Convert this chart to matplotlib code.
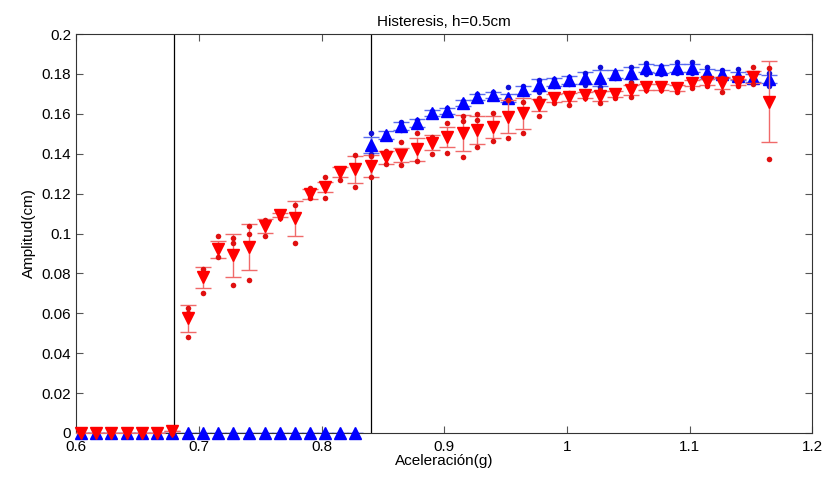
import numpy as np
import matplotlib
matplotlib.use("Agg")
from matplotlib import pyplot as plt
from matplotlib.ticker import FormatStrFormatter, MultipleLocator

plt.rcParams['font.family'] = ['Liberation Sans', 'DejaVu Sans']

# aceleracion (g) de cada medida
acel = [0.6038, 0.6163, 0.6287, 0.6412, 0.6535, 0.6660, 0.6780, 0.6910,
        0.7035, 0.7160, 0.7282, 0.7410, 0.7538, 0.7663, 0.7785, 0.7907,
        0.8029, 0.8152, 0.8274, 0.8400, 0.8524, 0.8649, 0.8777, 0.8899,
        0.9026, 0.9152, 0.9271, 0.9401, 0.9523, 0.9646, 0.9776, 0.9898,
        1.0020, 1.0148, 1.0271, 1.0393, 1.0521, 1.0645, 1.0768, 1.0896,
        1.1018, 1.1140, 1.1267, 1.1398, 1.1520, 1.1650]

# subida (azul)
amp_sube = [0.0] * 19 + [
    0.1444, 0.1494, 0.1539, 0.1552, 0.1602, 0.1616, 0.1652, 0.1686, 0.1696,
    0.1680, 0.1722, 0.1744, 0.1761, 0.1769, 0.1778, 0.1778, 0.1799, 0.1803,
    0.1828, 0.1823, 0.1828, 0.1831, 0.1806, 0.1799, 0.1789, 0.1778, 0.1773]
err_sube = [0.0] * 19 + [
    0.004, 0.002, 0.002, 0.002, 0.0015, 0.0015, 0.0015, 0.0015, 0.0015,
    0.002, 0.002, 0.003, 0.002, 0.002, 0.003, 0.004, 0.002, 0.003,
    0.002, 0.002, 0.002, 0.002, 0.002, 0.002, 0.002, 0.002, 0.002]
sube_hi = [0.0] * 19 + [
    0.1505, 0.1505, 0.1560, 0.1570, 0.1615, 0.1630, 0.1665, 0.1700, 0.1710,
    0.1735, 0.1740, 0.1769, 0.1775, 0.1785, 0.1806, 0.1836, 0.1810, 0.1836,
    0.1856, 0.1840, 0.1861, 0.1861, 0.1836, 0.1820, 0.1823, 0.1800, 0.1803]
sube_lo = [0.0] * 19 + [
    0.1398, 0.1480, 0.1520, 0.1535, 0.1590, 0.1600, 0.1640, 0.1670, 0.1680,
    0.1665, 0.1700, 0.1710, 0.1740, 0.1750, 0.1744, 0.1736, 0.1780, 0.1761,
    0.1799, 0.1800, 0.1803, 0.1805, 0.1778, 0.1780, 0.1770, 0.1760, 0.1739]

# bajada (rojo)
amp_baja = [0.0] * 6 + [
    0.001, 0.0575, 0.0780, 0.0920, 0.0890, 0.0934, 0.1038, 0.1093, 0.1076,
    0.1198, 0.1235, 0.1307, 0.1322, 0.1340, 0.1382, 0.1393, 0.1422, 0.1455,
    0.1482, 0.1505, 0.1519, 0.1535, 0.1586, 0.1602, 0.1644, 0.1678, 0.1683,
    0.1694, 0.1689, 0.1699, 0.1719, 0.1736, 0.1736, 0.1728, 0.1753, 0.1761,
    0.1753, 0.1761, 0.1786, 0.1661]
err_baja = [0.0] * 6 + [
    0.0, 0.0068, 0.0054, 0.0043, 0.0107, 0.0116, 0.0034, 0.0010, 0.0086,
    0.0025, 0.0025, 0.0025, 0.0067, 0.0055, 0.0032, 0.0036, 0.0056, 0.0037,
    0.0050, 0.0090, 0.0069, 0.0056, 0.0081, 0.0077, 0.0032, 0.0020, 0.0020,
    0.0015, 0.0025, 0.0015, 0.0025, 0.0015, 0.0015, 0.0015, 0.0015, 0.0015,
    0.0030, 0.0015, 0.0030, 0.0202]
baja_hi = [0.0] * 6 + [
    0.0, 0.0625, 0.0822, 0.0989, 0.0976, 0.1040, 0.1068, 0.1100, 0.1143,
    0.1230, 0.1285, 0.1322, 0.1393, 0.1390, 0.1413, 0.1460, 0.1505, 0.1486,
    0.1555, 0.1589, 0.1597, 0.1602, 0.1669, 0.1661, 0.1680, 0.1694, 0.1706,
    0.1705, 0.1719, 0.1710, 0.1756, 0.1750, 0.1750, 0.1740, 0.1770, 0.1780,
    0.1780, 0.1780, 0.1836, 0.1828]
baja_lo = [0.0] * 6 + [
    0.0, 0.0480, 0.0703, 0.0880, 0.0742, 0.0767, 0.0990, 0.1080, 0.0954,
    0.1176, 0.1176, 0.1268, 0.1235, 0.1285, 0.1348, 0.1343, 0.1363, 0.1398,
    0.1405, 0.1382, 0.1435, 0.1464, 0.1477, 0.1502, 0.1589, 0.1653, 0.1644,
    0.1680, 0.1656, 0.1680, 0.1683, 0.1720, 0.1720, 0.1710, 0.1730, 0.1740,
    0.1710, 0.1740, 0.1749, 0.1372]
# puntos sueltos que se ven aparte
extra_x = [0.6910, 0.7282, 0.7410, 0.9152, 0.9271]
extra_y = [0.0600, 0.0950, 0.0997, 0.1564, 0.1570]

# umbrales de histeresis
umbrales = [0.680, 0.840]

fig = plt.figure(figsize=(8.28, 4.8), dpi=100)
ax = fig.add_axes([0.092, 0.098, 0.889, 0.831])

ax.errorbar(acel, amp_sube, yerr=err_sube, fmt='none', ecolor='#5a6cf0',
            elinewidth=1, capsize=6, capthick=1, zorder=2)
ax.plot(acel, sube_hi, 'o', color='#1010d8', ms=4, mec='none', zorder=3, clip_on=False)
ax.plot(acel, sube_lo, 'o', color='#1010d8', ms=4, mec='none', zorder=3, clip_on=False)
ax.plot(acel, amp_sube, '^', color='#0000ff', ms=9, mec='#0000ff', zorder=4, clip_on=False)

ax.errorbar(acel, amp_baja, yerr=err_baja, fmt='none', ecolor='#f06a6a',
            elinewidth=1, capsize=6, capthick=1, zorder=5)
ax.plot(acel, baja_hi, 'o', color='#e01010', ms=4, mec='none', zorder=6, clip_on=False)
ax.plot(acel, baja_lo, 'o', color='#e01010', ms=4, mec='none', zorder=6, clip_on=False)
ax.plot(extra_x, extra_y, 'o', color='#e01010', ms=4, mec='none', zorder=6)
ax.plot(acel, amp_baja, 'v', color='#ff0000', ms=9, mec='#ff0000', zorder=7, clip_on=False)

for u in umbrales:
    ax.axvline(u, color='black', lw=0.9, zorder=1)

ax.set_xlim(0.6, 1.2)
ax.set_ylim(0, 0.2)
ax.xaxis.set_major_locator(MultipleLocator(0.1))
ax.yaxis.set_major_locator(MultipleLocator(0.02))
ax.xaxis.set_major_formatter(FormatStrFormatter('%g'))
ax.yaxis.set_major_formatter(FormatStrFormatter('%g'))
ax.tick_params(direction='in', top=True, right=True, length=5, labelsize=11,
               color='#555555')
ax.tick_params(axis='x', pad=5)
for s in ax.spines.values():
    s.set_color('#333333')

ax.set_title('Histeresis, h=0.5cm', fontsize=11, pad=6)
ax.set_xlabel('Aceleración(g)', fontsize=11, labelpad=0)
ax.set_ylabel('Amplitud(cm)', fontsize=11, labelpad=4)

fig.savefig('out.png', dpi=100)
